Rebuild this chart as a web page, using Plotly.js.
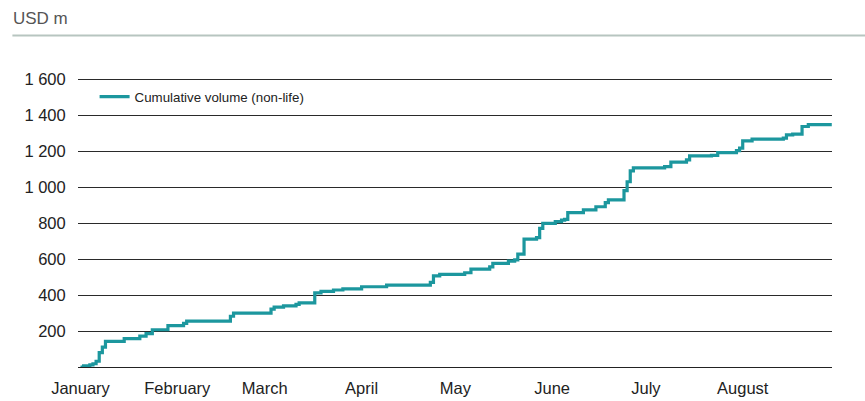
<!DOCTYPE html>
<html>
<head>
<meta charset="utf-8">
<script src="https://cdn.plot.ly/plotly-3.0.1.min.js"></script>
<style>
  html, body { margin: 0; padding: 0; background: #fff; }
  #chart { width: 865px; height: 401px; }
</style>
</head>
<body>
<div id="chart"></div>
<script>
// Cumulative non-life volume, USD m, by issuance date
const dates = [
  '2021-01-01', '2021-01-02', '2021-01-04', '2021-01-05', '2021-01-06', '2021-01-07',
  '2021-01-08', '2021-01-09', '2021-01-15', '2021-01-20', '2021-01-22', '2021-01-24',
  '2021-01-29', '2021-02-03', '2021-02-04', '2021-02-18', '2021-02-19',
  '2021-03-03', '2021-03-04', '2021-03-07', '2021-03-11', '2021-03-12', '2021-03-17',
  '2021-03-19', '2021-03-23', '2021-03-26', '2021-04-01', '2021-04-09', '2021-04-23',
  '2021-04-24', '2021-04-26', '2021-05-04', '2021-05-06', '2021-05-12', '2021-05-13',
  '2021-05-18', '2021-05-20', '2021-05-21', '2021-05-23', '2021-05-27', '2021-05-28',
  '2021-05-29', '2021-06-02', '2021-06-04', '2021-06-05', '2021-06-06', '2021-06-11',
  '2021-06-15', '2021-06-18', '2021-06-19', '2021-06-24', '2021-06-25', '2021-06-26',
  '2021-06-27', '2021-07-07', '2021-07-09', '2021-07-14', '2021-07-15', '2021-07-22',
  '2021-07-24', '2021-07-30', '2021-07-31', '2021-08-01', '2021-08-04', '2021-08-14',
  '2021-08-15', '2021-08-17', '2021-08-20', '2021-08-22', '2021-08-29'
];
const cumulativeVolume = [
  0, 6, 12, 18, 32, 80,
  110, 143, 158, 172, 185, 207,
  230, 243, 255, 282, 300,
  322, 333, 340, 348, 357, 412,
  420, 428, 434, 446, 455, 470,
  507, 515, 524, 544, 557, 576,
  589, 596, 627, 711, 719, 771,
  799, 808, 817, 821, 858, 873,
  891, 914, 929, 980, 1030, 1090,
  1107, 1114, 1139, 1152, 1174, 1176,
  1192, 1203, 1217, 1257, 1267, 1272,
  1291, 1295, 1337, 1347, 1356
];

const yTickVals = [200, 400, 600, 800, 1000, 1200, 1400, 1600];
const yTickText = ['200', '400', '600', '800', '1 000', '1 200', '1 400', '1 600'];
const monthTicks = ['2021-01-01', '2021-02-01', '2021-03-01', '2021-04-01',
                    '2021-05-01', '2021-06-01', '2021-07-01', '2021-08-01'];
const monthLabels = ['January', 'February', 'March', 'April', 'May', 'June', 'July', 'August'];

const FONT = 'Liberation Sans, Arial, sans-serif';
const TEAL = '#1c979e';

const trace = {
  type: 'scatter',
  mode: 'lines',
  x: dates,
  y: cumulativeVolume,
  name: 'Cumulative volume (non-life)',
  line: { color: TEAL, width: 3.2, shape: 'hv' }
};

const layout = {
  width: 865,
  height: 401,
  margin: { l: 78, r: 33, t: 72, b: 34 },
  paper_bgcolor: '#ffffff',
  plot_bgcolor: '#ffffff',
  font: { family: FONT, size: 14, color: '#222' },
  showlegend: true,
  legend: {
    x: 0.022, y: 0.915, xanchor: 'left', yanchor: 'middle',
    bgcolor: 'rgba(0,0,0,0)',
    font: { family: FONT, size: 13.3, color: '#222' },
    itemwidth: 30
  },
  xaxis: {
    type: 'date',
    range: ['2020-12-31 05:00', '2021-08-29 14:00'],
    tickmode: 'array',
    tickvals: monthTicks,
    ticktext: monthLabels,
    ticks: 'outside', ticklen: 6, tickcolor: 'rgba(0,0,0,0)',
    showgrid: false,
    showline: true, linecolor: '#222', linewidth: 1,
    zeroline: false,
    tickfont: { family: FONT, size: 16.5, color: '#222' }
  },
  yaxis: {
    range: [0, 1640],
    tickmode: 'array',
    tickvals: yTickVals,
    ticktext: yTickText,
    ticks: 'outside', ticklen: 8, tickcolor: 'rgba(0,0,0,0)',
    showgrid: true, gridcolor: '#2a2a2a', gridwidth: 1,
    zeroline: false,
    showline: false,
    tickfont: { family: FONT, size: 16.5, color: '#222' }
  },
  shapes: [
    { type: 'line', xref: 'paper', yref: 'paper',
      x0: -0.087, x1: 1.05, y0: 1.124, y1: 1.124,
      line: { color: '#b7c5c0', width: 2 } }
  ],
  annotations: [
    { xref: 'paper', yref: 'paper', x: -0.089, y: 1.183,
      xanchor: 'left', yanchor: 'middle', showarrow: false,
      text: 'USD m', font: { family: FONT, size: 17, color: '#555' } }
  ]
};

Plotly.newPlot('chart', [trace], layout, { displayModeBar: false, staticPlot: true });
</script>
</body>
</html>
